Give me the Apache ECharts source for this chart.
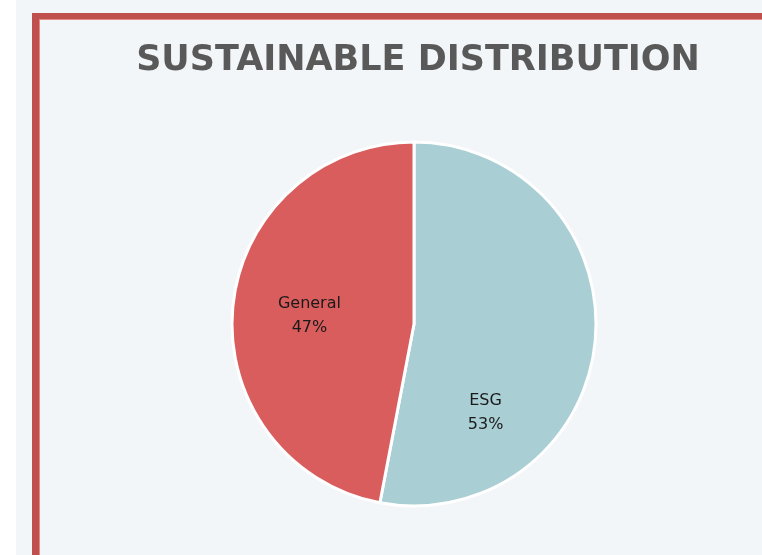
<!DOCTYPE html>
<html>
<head>
<meta charset="utf-8">
<style>
  html, body { margin: 0; padding: 0; background: #ffffff; }
  #chart { width: 762px; height: 555px; }
</style>
<script src="https://cdn.jsdelivr.net/npm/echarts@6/dist/echarts.min.js"></script>
</head>
<body>
<div id="chart"></div>
<script>
// Share of sustainable (ESG) versus general distribution
const categories = ['ESG', 'General'];
const shares = [53, 47];
const sliceColors = ['#a9cfd4', '#d95d5d'];
// label nudges relative to the default inside position
const labelOffsets = [[-22, 80], [-11, 1]];

const chart = echarts.init(document.getElementById('chart'), null, { renderer: 'canvas' });

const pieData = categories.map((name, i) => ({
  name: name,
  value: shares[i],
  itemStyle: { color: sliceColors[i] },
  label: { offset: labelOffsets[i] }
}));

chart.setOption({
  backgroundColor: '#ffffff',
  animation: false,
  graphic: [
    // panel background
    { type: 'rect', shape: { x: 16, y: 0, width: 746, height: 555 }, style: { fill: '#f2f6f8' }, silent: true, z: -10 },
    // left and top frame bars
    { type: 'rect', shape: { x: 32, y: 13, width: 7, height: 542 }, style: { fill: '#c0504d' }, silent: true, z: -5 },
    { type: 'rect', shape: { x: 32, y: 13, width: 730, height: 7 }, style: { fill: '#c0504d' }, silent: true, z: -5 },
    { type: 'rect', shape: { x: 39, y: 19, width: 1, height: 536 }, style: { fill: '#e28a88' }, silent: true, z: -4 },
    { type: 'rect', shape: { x: 39, y: 19, width: 723, height: 1 }, style: { fill: '#e28a88' }, silent: true, z: -4 }
  ],
  title: {
    text: 'SUSTAINABLE DISTRIBUTION',
    left: 413,
    textAlign: 'center',
    top: 38,
    textStyle: {
      fontFamily: 'DejaVu Sans',
      fontWeight: 'bold',
      fontSize: 35,
      color: '#595959'
    }
  },
  series: [{
    type: 'pie',
    center: [414, 324],
    radius: 182,
    startAngle: 90,
    clockwise: true,
    itemStyle: { borderColor: '#ffffff', borderWidth: 3 },
    label: {
      show: true,
      position: 'inside',
      formatter: '{b}\n{d}%',
      fontFamily: 'DejaVu Sans',
      fontSize: 16,
      lineHeight: 24,
      color: '#1a1a1a'
    },
    labelLine: { show: false },
    emphasis: { disabled: true },
    data: pieData
  }]
});
</script>
</body>
</html>
